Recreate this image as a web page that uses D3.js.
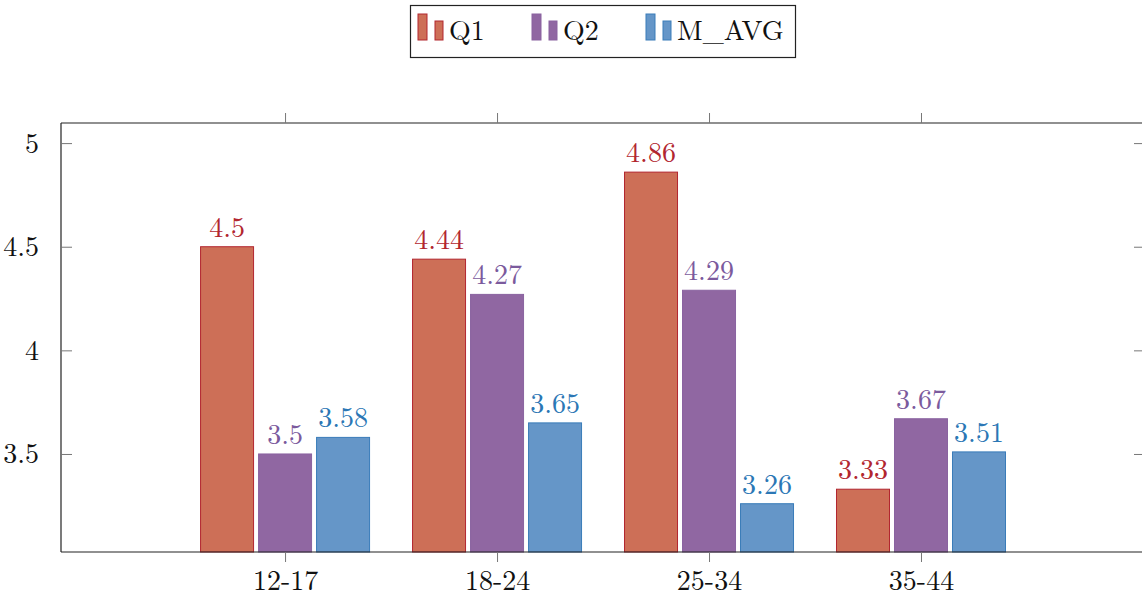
<!DOCTYPE html>
<html><head><meta charset="utf-8">
<script src="https://cdn.jsdelivr.net/npm/d3@7"></script>
<style>body{margin:0;background:#fff}svg{display:block}text{font-family:"Latin Modern Roman","Liberation Serif","DejaVu Serif",serif}</style>
</head><body>
<script>
const categories = ["12-17","18-24","25-34","35-44"];
const seriesNames = ["Q1","Q2","M_AVG"];
const q1 = [4.5, 4.44, 4.86, 3.33];
const q2 = [3.5, 4.27, 4.29, 3.67];
const mavg = [3.58, 3.65, 3.26, 3.51];
const yTicks = [3.5, 4, 4.5, 5];
const yTickLabels = ["3.5","4","4.5","5"];

const series = [
  {name:"Q1", values:q1, fill:"#cd6f57", stroke:"#b2262f", label:"#b2262f"},
  {name:"Q2", values:q2, fill:"#9067a2", stroke:"#8a63a0", label:"#7b5a9d"},
  {name:"M_AVG", values:mavg, fill:"#6596c8", stroke:"#3a7cb9", label:"#2b77b5"}
];

const W=1142,H=601;
const L=61,R=1144,T=123,B=552;
const svg=d3.select("body").append("svg").attr("width",W).attr("height",H);
const x=d3.scaleLinear().domain([-1.057,4.052]).range([L,R]);
const y=d3.scaleLinear().domain([3.027,5.097]).range([B,T]);
const offsets=[-58,0,58], bw=53;

// bars
series.forEach((s,si)=>{
  const g=svg.append("g");
  g.selectAll("rect").data(s.values).join("rect")
    .attr("x",(d,i)=>x(i)+offsets[si]-bw/2)
    .attr("y",d=>y(d))
    .attr("width",bw)
    .attr("height",d=>B-y(d))
    .attr("fill",s.fill).attr("stroke",s.stroke).attr("stroke-width",1);
  g.selectAll("text").data(s.values).join("text")
    .attr("x",(d,i)=>x(i)+offsets[si])
    .attr("y",d=>y(d)-10)
    .attr("text-anchor","middle")
    .attr("font-size",28)
    .attr("fill",s.label)
    .text(d=>String(d));
});

// axes frame
const frame=svg.append("g").attr("stroke","#222").attr("fill","none").attr("stroke-width",1.2);
frame.append("line").attr("x1",L).attr("x2",L).attr("y1",T).attr("y2",B);
frame.append("line").attr("x1",L).attr("x2",R).attr("y1",B).attr("y2",B);
frame.append("line").attr("x1",L).attr("x2",R).attr("y1",T).attr("y2",T);
frame.append("line").attr("x1",R).attr("x2",R).attr("y1",T).attr("y2",B);

// y axis (ticks inward)
const yAx=svg.append("g").attr("transform",`translate(${L},0)`)
  .call(d3.axisLeft(y).tickValues(yTicks).tickSize(-11).tickPadding(22).tickFormat((d,i)=>yTickLabels[i]));
yAx.select(".domain").remove();
yAx.selectAll(".tick line").attr("stroke","#777");
yAx.selectAll(".tick text").attr("font-size",28).attr("fill","#111").attr("font-family",'"Latin Modern Roman","Liberation Serif",serif');
const yAxR=svg.append("g").attr("transform",`translate(${R},0)`)
  .call(d3.axisRight(y).tickValues(yTicks).tickSize(-10).tickFormat(""));
yAxR.select(".domain").remove();
yAxR.selectAll(".tick line").attr("stroke","#777");

// x axis (ticks outward)
const xAx=svg.append("g").attr("transform",`translate(0,${B})`)
  .call(d3.axisBottom(x).tickValues(d3.range(categories.length)).tickSize(10).tickPadding(8).tickFormat(i=>categories[i]));
xAx.select(".domain").remove();
xAx.selectAll(".tick line").attr("stroke","#777");
xAx.selectAll(".tick text").attr("font-size",28).attr("fill","#111").attr("font-family",'"Latin Modern Roman","Liberation Serif",serif');
const xAxT=svg.append("g").attr("transform",`translate(0,${T})`)
  .call(d3.axisTop(x).tickValues(d3.range(categories.length)).tickSize(10).tickFormat(""));
xAxT.select(".domain").remove();
xAxT.selectAll(".tick line").attr("stroke","#777");

// legend
const lg=svg.append("g");
lg.append("rect").attr("x",410.5).attr("y",5.5).attr("width",385).attr("height",52).attr("fill","#fff").attr("stroke","#222").attr("stroke-width",1.2);
const legX=[418,532,646];
series.forEach((s,si)=>{
  const x0=legX[si];
  lg.append("rect").attr("x",x0).attr("y",14).attr("width",9).attr("height",26).attr("fill",s.fill).attr("stroke",s.stroke);
  lg.append("rect").attr("x",x0+17).attr("y",21).attr("width",8).attr("height",19).attr("fill",s.fill).attr("stroke",s.stroke);
  lg.append("text").attr("x",x0+31).attr("y",40).attr("font-size",28).attr("fill","#111").text(s.name);
});
</script>
</body></html>
